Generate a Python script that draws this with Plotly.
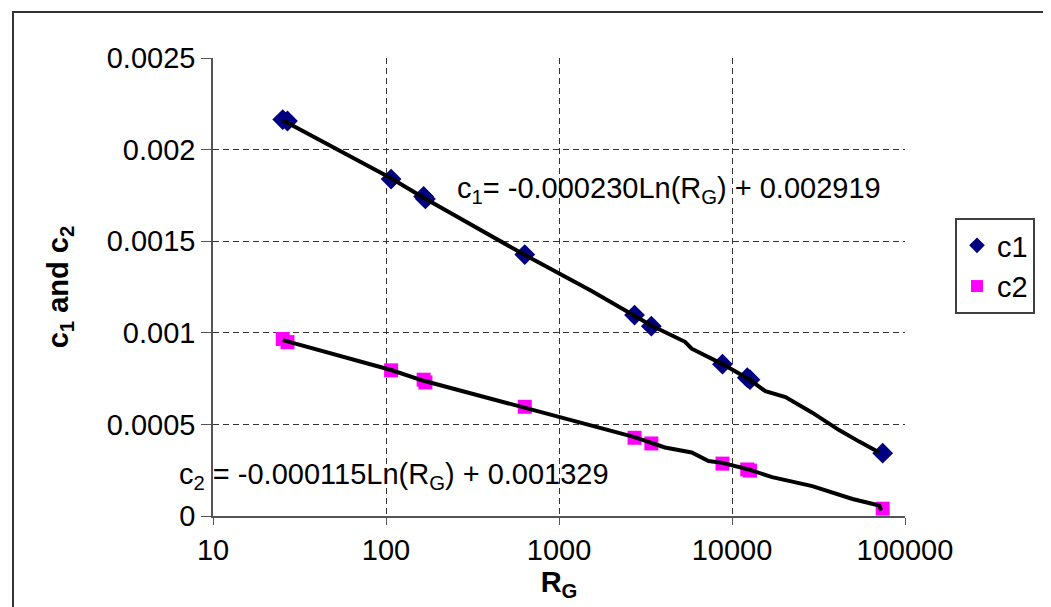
import plotly.graph_objects as go

# ---- data ----
rg_pts = [25.3, 26.95, 107, 165, 169, 634, 2733, 3418, 8810, 12250, 12700, 74300]
c1_pts = [0.002164, 0.002156, 0.001839, 0.001744, 0.001731, 0.001427,
          0.001097, 0.001036, 0.000829, 0.000755, 0.000744, 0.000343]
c2_pts = [0.000966, 0.000949, 0.000795, 0.000744, 0.000729, 0.000596,
          0.000427, 0.000396, 0.000286, 0.000254, 0.000248, 0.000040]

c1_line_x = [25.3, 107, 165, 628, 1535, 2733, 3418, 5350, 5848, 8810, 12470,
             15600, 20380, 29110, 41590, 54370, 70980]
c1_line_y = [0.002160, 0.001843, 0.001737, 0.001427, 0.001230, 0.001097, 0.001040,
             0.000951, 0.000913, 0.000829, 0.000748, 0.000681, 0.000649, 0.000564,
             0.000469, 0.000406, 0.000347]

c2_line_x = [25.3, 107, 165, 628, 1535, 2733, 4094, 5848, 7313, 8810, 12470,
             17060, 29110, 49740, 70980, 72900]
c2_line_y = [0.000960, 0.000797, 0.000738, 0.000592, 0.000491, 0.000431, 0.000374,
             0.000347, 0.000300, 0.000290, 0.000254, 0.000212, 0.000163, 0.000093,
             0.000057, 0.000030]

x_ticks = [10, 100, 1000, 10000, 100000]
x_tick_text = ["10", "100", "1000", "10000", "100000"]
y_ticks = [0, 0.0005, 0.001, 0.0015, 0.002, 0.0025]
y_tick_text = ["0", "0.0005", "0.001", "0.0015", "0.002", "0.0025"]

FONT = "Liberation Sans, Arial, sans-serif"
FS = 29

fig = go.Figure()
fig.add_trace(go.Scatter(x=rg_pts, y=c1_pts, mode="markers", name="c1",
                         marker=dict(symbol="diamond", color="#000080", size=16)))
fig.add_trace(go.Scatter(x=rg_pts, y=c2_pts, mode="markers", name="c2",
                         marker=dict(symbol="square", color="#FF00FF", size=14)))
fig.add_trace(go.Scatter(x=c1_line_x, y=c1_line_y, mode="lines", showlegend=False,
                         line=dict(color="black", width=4)))
fig.add_trace(go.Scatter(x=c2_line_x, y=c2_line_y, mode="lines", showlegend=False,
                         line=dict(color="black", width=4)))

L, R, T, B = 205, 897, 50, 508
W, H = 1051, 607


def px(xp):
    return (xp - L) / (R - L)


def py(yp):
    return (B - yp) / (B - T)


fig.update_layout(
    width=W, height=H,
    margin=dict(l=L, r=W - R, t=T, b=H - B),
    paper_bgcolor="white", plot_bgcolor="white",
    font=dict(family=FONT, size=FS, color="black"),
    showlegend=True,
    legend=dict(x=px(947), y=py(210), xanchor="left", yanchor="top",
                bordercolor="#404040", borderwidth=2, bgcolor="white",
                font=dict(size=FS), itemsizing="constant", tracegroupgap=0),
    xaxis=dict(type="log", range=[1, 5], tickvals=x_ticks, ticktext=x_tick_text,
               showgrid=True, gridcolor="#333333", griddash="6px,4px", gridwidth=1,
               showline=True, linecolor="#555555", linewidth=1.5,
               ticks="outside", ticklen=7, tickcolor="#555555", zeroline=False,
               title=dict(text="<b>R<sub>G</sub></b>", font=dict(size=FS), standoff=0)),
    yaxis=dict(range=[0, 0.0025], tickvals=y_ticks, ticktext=y_tick_text,
               showgrid=True, gridcolor="#333333", griddash="6px,4px", gridwidth=1,
               showline=True, linecolor="#555555", linewidth=1.5,
               ticks="outside", ticklen=10, tickcolor="#555555", zeroline=False,
               title=dict(text="<b>c<sub>1</sub> and c<sub>2</sub></b>",
                          font=dict(size=FS), standoff=30)),
)

fig.add_annotation(x=3.636, y=0.001779, xref="x", yref="y",
                   text="c<sub>1</sub>= -0.000230Ln(R<sub>G</sub>) + 0.002919",
                   showarrow=False, font=dict(size=FS))
fig.add_annotation(x=2.046, y=0.000218, xref="x", yref="y",
                   text="c<sub>2</sub> = -0.000115Ln(R<sub>G</sub>) + 0.001329",
                   showarrow=False, font=dict(size=FS))

# outer chart frame (extends past the right and bottom edges)
fig.add_shape(type="rect", xref="paper", yref="paper",
              x0=px(5), y0=py(620), x1=px(1065), y1=py(4),
              line=dict(color="#333333", width=2), layer="below")

fig.write_html("out.html")
